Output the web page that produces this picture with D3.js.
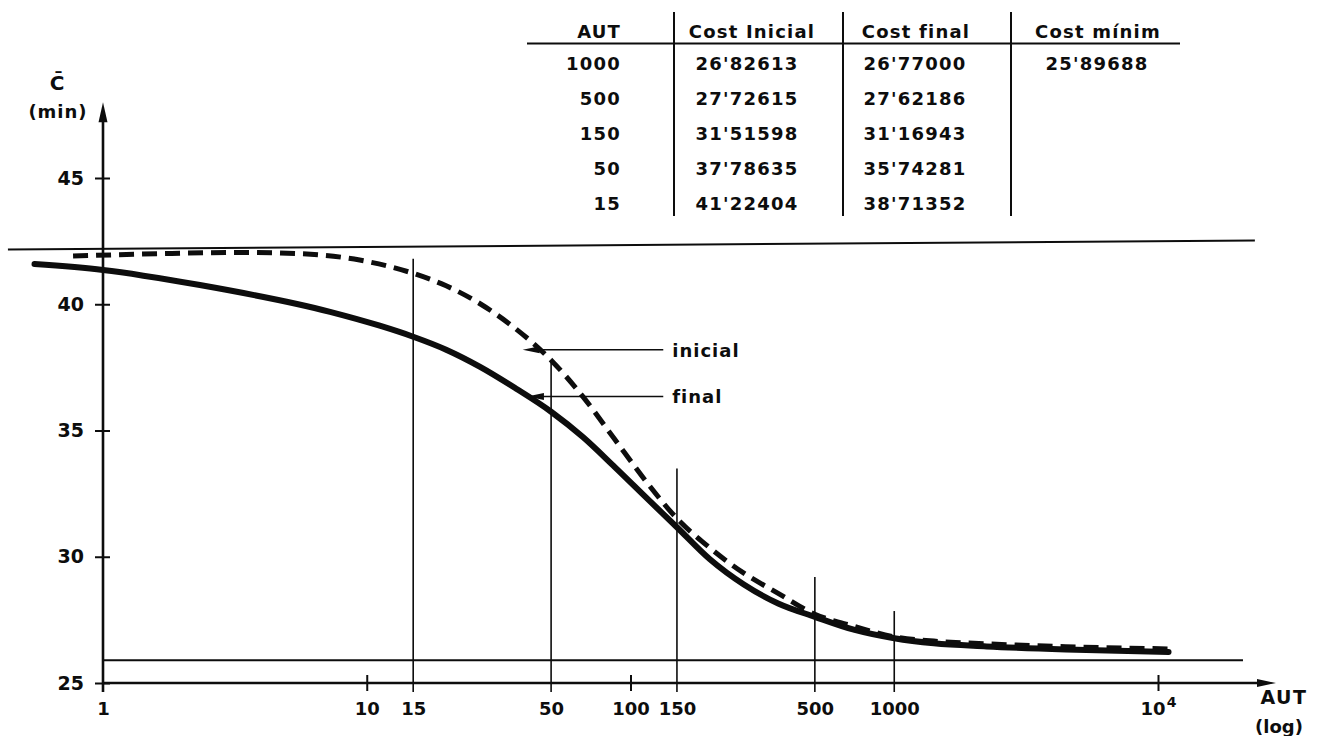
<!DOCTYPE html>
<html>
<head>
<meta charset="utf-8">
<script src="https://cdn.jsdelivr.net/npm/d3@7"></script>
<style>
  html, body { margin: 0; padding: 0; background: #fff; }
  svg { display: block; }
  text { font-family: "DejaVu Sans", sans-serif; font-weight: bold; fill: #0d0d0d; }
</style>
</head>
<body>
<svg id="chart" width="1320" height="736"></svg>
<script>
// ---- Summary table ----
const tableAut    = [1000, 500, 150, 50, 15];
const costInicial = [26.82613, 27.72615, 31.51598, 37.78635, 41.22404];
const costFinal   = [26.77000, 27.62186, 31.16943, 35.74281, 38.71352];
const costMinim   = [25.89688];
const tableHeaders = ["AUT", "Cost Inicial", "Cost final", "Cost mínim"];

// ---- Curves: mean cost (min) against AUT ----
const inicialAut  = [0.77, 1.6, 3.3, 5.6, 9.4, 15, 20, 26.9, 36.3, 50, 66, 87, 115, 150, 200, 269, 363, 500, 708, 1000, 1413, 2239, 4467, 10965];
const inicialCost = [41.91, 42.00, 42.05, 42.00, 41.75, 41.22404, 40.73, 40.02, 39.07, 37.78635, 36.34, 34.66, 32.96, 31.51598, 30.35, 29.35, 28.55, 27.72615, 27.24, 26.82613, 26.66, 26.55, 26.44, 26.35];
const finalAut    = [0.55, 1, 2.33, 7.26, 11.2, 15, 20, 26.9, 36.3, 50, 66, 87, 115, 150, 200, 269, 363, 500, 708, 1000, 1413, 2239, 4467, 10965];
const finalCost   = [41.59, 41.36, 40.76, 39.70, 39.15, 38.71352, 38.20, 37.52, 36.70, 35.74281, 34.74, 33.56, 32.33, 31.16943, 29.90, 28.90, 28.15, 27.62186, 27.10, 26.77000, 26.57, 26.45, 26.33, 26.23];

// ---- Axes ----
const yTicks = [25, 30, 35, 40, 45];
const xTicks = [1, 10, 15, 50, 100, 150, 500, 1000, 10000];
const xTickLabels = ["1", "10", "15", "50", "100", "150", "500", "1000", "10"];

// Vertical guides (AUT) and the cost level where each one stops
const guideAut = [15, 50, 150, 500, 1000];
const guideTop = [41.8, 37.7, 33.5, 29.2, 27.85];

// Horizontal reference lines: level at each end and AUT extent
const refStart = [42.17, costMinim[0]];
const refEnd   = [42.52, costMinim[0]];
const refFrom  = [0.436, 1];
const refTo    = [23300, 21000];

const svg = d3.select("#chart");
const ink = "#0d0d0d";

const x = d3.scaleLog().domain([1, 1e4]).range([103, 1158]);
const y = d3.scaleLinear().domain([25, 45]).range([683, 178]);

// reference lines
svg.append("g").selectAll("line")
  .data(refStart.map((v, i) => ({ v0: v, v1: refEnd[i], a: refFrom[i], b: refTo[i] })))
  .join("line")
  .attr("x1", d => x(d.a)).attr("x2", d => x(d.b))
  .attr("y1", d => y(d.v0)).attr("y2", d => y(d.v1))
  .attr("stroke", ink).attr("stroke-width", 2);

// vertical guides
svg.append("g").selectAll("line")
  .data(guideAut.map((a, i) => ({ a, top: guideTop[i] })))
  .join("line")
  .attr("x1", d => x(d.a)).attr("x2", d => x(d.a))
  .attr("y1", d => y(d.top)).attr("y2", y(25) + 9)
  .attr("stroke", ink).attr("stroke-width", 1.6);

// y axis
const yAxis = svg.append("g")
  .attr("transform", `translate(${x(1)},0)`)
  .call(d3.axisLeft(y).tickValues(yTicks).tickSize(8).tickPadding(11));
yAxis.select(".domain").remove();
yAxis.selectAll(".tick line").attr("x1", 7).attr("stroke", ink).attr("stroke-width", 2);
yAxis.selectAll(".tick text").style("font-size", "19px").attr("fill", ink);

// x axis
const xAxis = svg.append("g")
  .attr("transform", `translate(0,${y(25)})`)
  .call(d3.axisBottom(x).tickValues(xTicks).tickSize(8).tickPadding(11)
    .tickFormat((d, i) => xTickLabels[i]));
xAxis.select(".domain").remove();
xAxis.selectAll(".tick line")
  .attr("y1", -8).attr("stroke", ink).attr("stroke-width", 2)
  .attr("display", d => (d === 1 || guideAut.includes(d)) ? "none" : null);
xAxis.selectAll(".tick text").style("font-size", "18px").attr("fill", ink);
xAxis.selectAll(".tick").filter(d => d === 10000).select("text")
  .append("tspan").attr("dy", "-0.55em").attr("dx", "1").style("font-size", "14px").text("4");

// axis lines with arrowheads
const xEnd = x(1e4) + 118;
svg.append("line").attr("x1", x(1)).attr("x2", xEnd - 12)
  .attr("y1", y(25)).attr("y2", y(25)).attr("stroke", ink).attr("stroke-width", 2.4);
svg.append("path")
  .attr("d", `M${xEnd},${y(25)} L${xEnd - 19},${y(25) - 4} L${xEnd - 19},${y(25) + 4} Z`)
  .attr("fill", ink);
const yEnd = y(48);
svg.append("line").attr("x1", x(1)).attr("x2", x(1))
  .attr("y1", y(25) + 9).attr("y2", yEnd + 12).attr("stroke", ink).attr("stroke-width", 2.6);
svg.append("path")
  .attr("d", `M${x(1)},${yEnd} L${x(1) - 4.5},${yEnd + 20} L${x(1) + 4.5},${yEnd + 20} Z`)
  .attr("fill", ink);

// axis titles
svg.append("text").attr("x", 57).attr("y", 90).attr("text-anchor", "middle")
  .style("font-size", "20px").text("C\u0304");
svg.append("text").attr("x", 58).attr("y", 118).attr("text-anchor", "middle")
  .style("font-size", "18px").style("letter-spacing", "1px").text("(min)");
svg.append("text").attr("x", 1284).attr("y", 704).attr("text-anchor", "middle")
  .style("font-size", "19px").style("letter-spacing", "1.5px").text("AUT");
svg.append("text").attr("x", 1279).attr("y", 733).attr("text-anchor", "middle")
  .style("font-size", "18px").text("(log)");

// curves
const line = d3.line().x(d => x(d[0])).y(d => y(d[1])).curve(d3.curveMonotoneX);
svg.append("path")
  .datum(finalAut.map((a, i) => [a, finalCost[i]]))
  .attr("d", line).attr("fill", "none").attr("stroke", ink)
  .attr("stroke-width", 6).attr("stroke-linecap", "round");
svg.append("path")
  .datum(inicialAut.map((a, i) => [a, inicialCost[i]]))
  .attr("d", line).attr("fill", "none").attr("stroke", ink)
  .attr("stroke-width", 5).attr("stroke-dasharray", "15 8");

// curve annotations
const notes = [
  { label: "inicial", level: 38.2, tip: 39 },
  { label: "final", level: 36.35, tip: 40.5 }
];
const labelAut = 144;
notes.forEach(n => {
  const yy = y(n.level), tx = x(n.tip), lx = x(labelAut);
  svg.append("line").attr("x1", tx + 10).attr("x2", lx - 9)
    .attr("y1", yy).attr("y2", yy).attr("stroke", ink).attr("stroke-width", 1.5);
  svg.append("path")
    .attr("d", `M${tx},${yy} L${tx + 17},${yy - 3.5} L${tx + 17},${yy + 3.5} Z`)
    .attr("fill", ink);
  svg.append("text").attr("x", lx).attr("y", yy + 7)
    .style("font-size", "18px").style("letter-spacing", "1px").text(n.label);
});

// ---- table ----
const tbl = svg.append("g").style("font-size", "18px").style("letter-spacing", "1.2px");
const colX = [621, 752, 916, 1098];
const colAnchor = ["end", "middle", "middle", "middle"];
const rowY = d3.scalePoint().domain(tableAut).range([70, 210]);
const fmt = v => d3.format(".5f")(v).replace(".", "'");

tbl.selectAll("text.h").data(tableHeaders).join("text")
  .attr("class", "h")
  .attr("x", (d, i) => colX[i]).attr("y", 38)
  .attr("text-anchor", (d, i) => colAnchor[i]).text(d => d);

tbl.append("line").attr("x1", 527).attr("x2", 1180).attr("y1", 43.5).attr("y2", 43.5)
  .attr("stroke", ink).attr("stroke-width", 1.8);
[674, 843, 1011].forEach(cx => {
  tbl.append("line").attr("x1", cx).attr("x2", cx).attr("y1", 12).attr("y2", 216)
    .attr("stroke", ink).attr("stroke-width", 2);
});

const rows = tableAut.map((a, i) => ({ a, ci: costInicial[i], cf: costFinal[i], cm: i === 0 ? costMinim[0] : null }));
const rowG = tbl.selectAll("g.row").data(rows).join("g").attr("class", "row");
rowG.append("text").attr("x", colX[0]).attr("y", d => rowY(d.a)).attr("text-anchor", "end").text(d => d.a);
rowG.append("text").attr("x", colX[1] - 5).attr("y", d => rowY(d.a)).attr("text-anchor", "middle").text(d => fmt(d.ci));
rowG.append("text").attr("x", colX[2] - 1).attr("y", d => rowY(d.a)).attr("text-anchor", "middle").text(d => fmt(d.cf));
rowG.filter(d => d.cm !== null).append("text").attr("x", colX[3] - 1).attr("y", d => rowY(d.a))
  .attr("text-anchor", "middle").text(d => fmt(d.cm));
</script>
</body>
</html>
